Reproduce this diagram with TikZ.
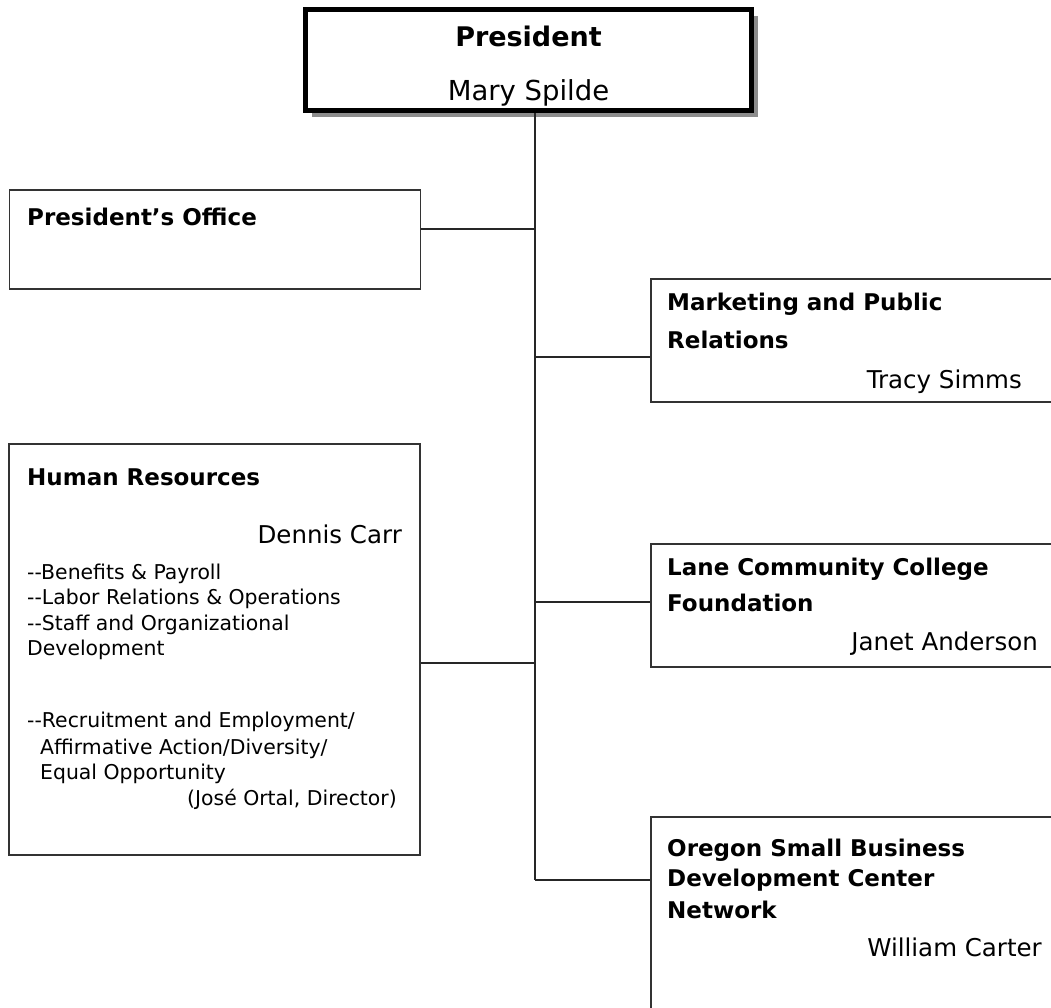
\documentclass[tikz,border=0pt]{standalone}
\usepackage{fontspec}
\setmainfont{DejaVu Sans}
\usetikzlibrary{shadows}
\tikzset{
  box/.style={draw=black!80, line width=1.6pt, fill=white, inner sep=0pt, rectangle},
  presbox/.style={draw=black, line width=5pt, fill=white, inner sep=0pt, rectangle,
    drop shadow={shadow xshift=6pt, shadow yshift=-6pt, fill=black!45, opacity=1}},
  conn/.style={draw=black!85, line width=2pt},
  ttl/.style={inner sep=0pt, font=\fontsize{23}{28}\selectfont\bfseries},
  nm/.style={inner sep=0pt, font=\fontsize{24.5}{29}\selectfont},
  sm/.style={inner sep=0pt, font=\fontsize{20.4}{24}\selectfont},
  pt/.style={inner sep=0pt, font=\fontsize{27}{32}\selectfont\bfseries},
  pn/.style={inner sep=0pt, font=\fontsize{27.5}{32}\selectfont}
}
\begin{document}
\begin{tikzpicture}[x=1pt,y=-1pt]
\useasboundingbox (0,0) rectangle (1051,1007);
\fill[white] (0,0) rectangle (1051,1007);
\clip (0,0) rectangle (1051,1007);

% junction coordinates on the main line
\coordinate (j1) at (535,229);
\coordinate (j2) at (535,357);
\coordinate (j4) at (535,602);
\coordinate (j3) at (535,663);
\coordinate (bot) at (535,880);

% boxes
\node[presbox, minimum width=446pt, minimum height=101pt] (pres) at (528.5,60) {};
\node[box, minimum width=411pt, minimum height=99pt] (po) at (215,239.5) {};
\node[box, minimum width=420pt, minimum height=123pt] (mk) at (861,340.5) {};
\node[box, minimum width=411pt, minimum height=411pt] (hr) at (214.5,649.5) {};
\node[box, minimum width=420pt, minimum height=123pt] (lane) at (861,605.5) {};
\node[box, minimum width=420pt, minimum height=220pt] (os) at (861,927) {};

% connectors
\draw[conn] (pres.south -| bot) -- (bot);
\draw[conn] (po.east |- j1) -- (j1);
\draw[conn] (j2) -- (mk.west |- j2);
\draw[conn] (hr.east |- j3) -- (j3);
\draw[conn] (j4) -- (lane.west |- j4);
\draw[conn] (bot) -- (os.west |- bot);

% President
\node[pt, anchor=base] (prest) at (528.5,46) {President};
\node[pn, anchor=base] (presn) at (528.5,100) {Mary Spilde};

% President's Office
\node[ttl, anchor=base west] (pot) at (27,225.4) {President’s Office};

% Marketing
\node[ttl, anchor=base west] (mk1) at (667,310.4) {Marketing and Public};
\node[ttl, anchor=base west] (mk2) at (667,348.4) {Relations};
\node[nm, anchor=base east] (mkn) at (1022,388.8) {Tracy Simms};

% Human Resources
\node[ttl, anchor=base west] (hrt) at (27,485.4) {Human Resources};
\node[nm, anchor=base east] (hrn) at (402,543.8) {Dennis Carr};
\node[sm, anchor=base west] (hr1) at (27,579.4) {-{}-Benefits \& Payroll};
\node[sm, anchor=base west] (hr2) at (27,604.4) {-{}-Labor Relations \& Operations};
\node[sm, anchor=base west] (hr3) at (27,630.4) {-{}-Staff and Organizational};
\node[sm, anchor=base west] (hr4) at (27,655.4) {Development};
\node[sm, anchor=base west] (hr5) at (27,727.4) {-{}-Recruitment and Employment/};
\node[sm, anchor=base west] (hr6) at (40,754.4) {Affirmative Action/Diversity/};
\node[sm, anchor=base west] (hr7) at (40,779.4) {Equal Opportunity};
\node[sm, anchor=base east] (hr8) at (397,805.4) {(José Ortal, Director)};

% Lane
\node[ttl, anchor=base west] (ln1) at (667,575.4) {Lane Community College};
\node[ttl, anchor=base west] (ln2) at (667,611.4) {Foundation};
\node[nm, anchor=base east] (lnn) at (1038,650.8) {Janet Anderson};

% OSBDC
\node[ttl, anchor=base west] (os1) at (667,856.4) {Oregon Small Business};
\node[ttl, anchor=base west] (os2) at (667,886.4) {Development Center};
\node[ttl, anchor=base west] (os3) at (667,918.4) {Network};
\node[nm, anchor=base east] (osn) at (1042,956.8) {William Carter};
\end{tikzpicture}
\end{document}
